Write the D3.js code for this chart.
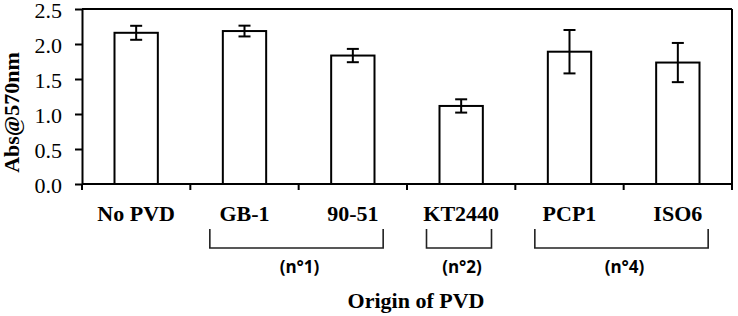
<!DOCTYPE html>
<html>
<head>
<meta charset="utf-8">
<script src="https://cdn.jsdelivr.net/npm/d3@7"></script>
<style>
  html, body { margin: 0; padding: 0; background: #fff; }
  svg { display: block; }
  .serif { font-family: "Liberation Serif", "Times New Roman", serif; font-size: 22px; fill: #000; }
  .bold { font-weight: bold; }
  .sans { font-family: "Open Sans", "Liberation Sans", sans-serif; font-weight: bold; font-size: 17px; fill: #000; }
</style>
</head>
<body>
<svg id="chart" width="738" height="316"></svg>
<script>
const categories = ["No PVD", "GB-1", "90-51", "KT2440", "PCP1", "ISO6"];
const values = [2.16, 2.185, 1.835, 1.115, 1.89, 1.735];
const errors = [0.10, 0.077, 0.095, 0.095, 0.31, 0.28];
const yTicks = [0, 0.5, 1.0, 1.5, 2.0, 2.5];
const groupLabels = ["(n°1)", "(n°2)", "(n°4)"];
const groupStart = ["GB-1", "KT2440", "PCP1"];
const groupEnd = ["90-51", "KT2440", "ISO6"];
const yTitle = "Abs@570nm";
const xTitle = "Origin of PVD";

const svg = d3.select("#chart");
const mLeft = 82, mRight = 732, mTop = 9, mBottom = 184;

const x = d3.scaleBand().domain(categories).range([mLeft, mRight]).padding(0);
const y = d3.scaleLinear().domain([0, 2.5]).range([mBottom, mTop]);
const bw = x.bandwidth();
const barW = bw * 0.4;

// frame top and right
svg.append("line").attr("x1", mLeft).attr("x2", mRight).attr("y1", mTop).attr("y2", mTop)
  .attr("stroke", "#000").attr("stroke-width", 2);
svg.append("line").attr("x1", mRight).attr("x2", mRight).attr("y1", mTop).attr("y2", mBottom)
  .attr("stroke", "#000").attr("stroke-width", 2);

// y axis
const yAxis = d3.axisLeft(y).tickValues(yTicks).tickFormat(d3.format(".1f"))
  .tickSize(7).tickSizeOuter(0).tickPadding(13);
const gy = svg.append("g").attr("transform", `translate(${mLeft},0)`).call(yAxis);
gy.attr("font-family", null).attr("font-size", null);
gy.select(".domain").attr("stroke-width", 2);
gy.selectAll(".tick line").attr("stroke-width", 2);
gy.selectAll(".tick text").attr("class", "serif").attr("dy", "0.4em");

// x axis line and ticks at band boundaries
svg.append("line").attr("x1", mLeft).attr("x2", mRight).attr("y1", mBottom).attr("y2", mBottom)
  .attr("stroke", "#000").attr("stroke-width", 2);
const xTickPos = categories.map(c => x(c)).concat([x.range()[1]]);
svg.append("g").selectAll("line").data(xTickPos).join("line")
  .attr("x1", d => d).attr("x2", d => d)
  .attr("y1", mBottom).attr("y2", mBottom + 6)
  .attr("stroke", "#000").attr("stroke-width", 2);

// bars
const data = categories.map((c, i) => ({ c, v: values[i], e: errors[i] }));
svg.append("g").selectAll("rect").data(data).join("rect")
  .attr("x", d => x(d.c) + bw / 2 - barW / 2)
  .attr("width", barW)
  .attr("y", d => y(d.v))
  .attr("height", d => y(0) - y(d.v))
  .attr("fill", "#fff").attr("stroke", "#000").attr("stroke-width", 2);

// error bars
const capW = 12;
const eg = svg.append("g").attr("stroke", "#000").attr("stroke-width", 2);
data.forEach(d => {
  const cx = x(d.c) + bw / 2;
  eg.append("line").attr("x1", cx).attr("x2", cx).attr("y1", y(d.v + d.e)).attr("y2", y(d.v - d.e));
  eg.append("line").attr("x1", cx - capW / 2).attr("x2", cx + capW / 2).attr("y1", y(d.v + d.e)).attr("y2", y(d.v + d.e));
  eg.append("line").attr("x1", cx - capW / 2).attr("x2", cx + capW / 2).attr("y1", y(d.v - d.e)).attr("y2", y(d.v - d.e));
});

// category labels
svg.append("g").selectAll("text").data(categories).join("text")
  .attr("class", "serif bold")
  .attr("x", d => x(d) + bw / 2).attr("y", 221)
  .attr("text-anchor", "middle")
  .text(d => d);

// brackets
const bTop = 229, bBot = 248;
const groups = groupLabels.map((g, i) => ({
  label: g,
  x0: x(groupStart[i]) + bw * 0.18,
  x1: x(groupEnd[i]) + bw * 0.78
}));
svg.append("g").selectAll("path").data(groups).join("path")
  .attr("d", d => `M${d.x0},${bTop}V${bBot}H${d.x1}V${bTop}`)
  .attr("fill", "none").attr("stroke", "#222").attr("stroke-width", 1.6);
svg.append("g").selectAll("text").data(groups).join("text")
  .attr("class", "sans")
  .attr("x", d => (d.x0 + d.x1) / 2 + 3).attr("y", 273)
  .attr("text-anchor", "middle")
  .text(d => d.label);

// axis titles
svg.append("text")
  .attr("class", "serif bold")
  .attr("transform", `translate(18.5,${(mTop + mBottom) / 2 + 16}) rotate(-90)`)
  .attr("text-anchor", "middle")
  .text(yTitle);
svg.append("text")
  .attr("class", "serif bold")
  .attr("x", (mLeft + mRight) / 2 + 9).attr("y", 308)
  .attr("text-anchor", "middle")
  .text(xTitle);
</script>
</body>
</html>
